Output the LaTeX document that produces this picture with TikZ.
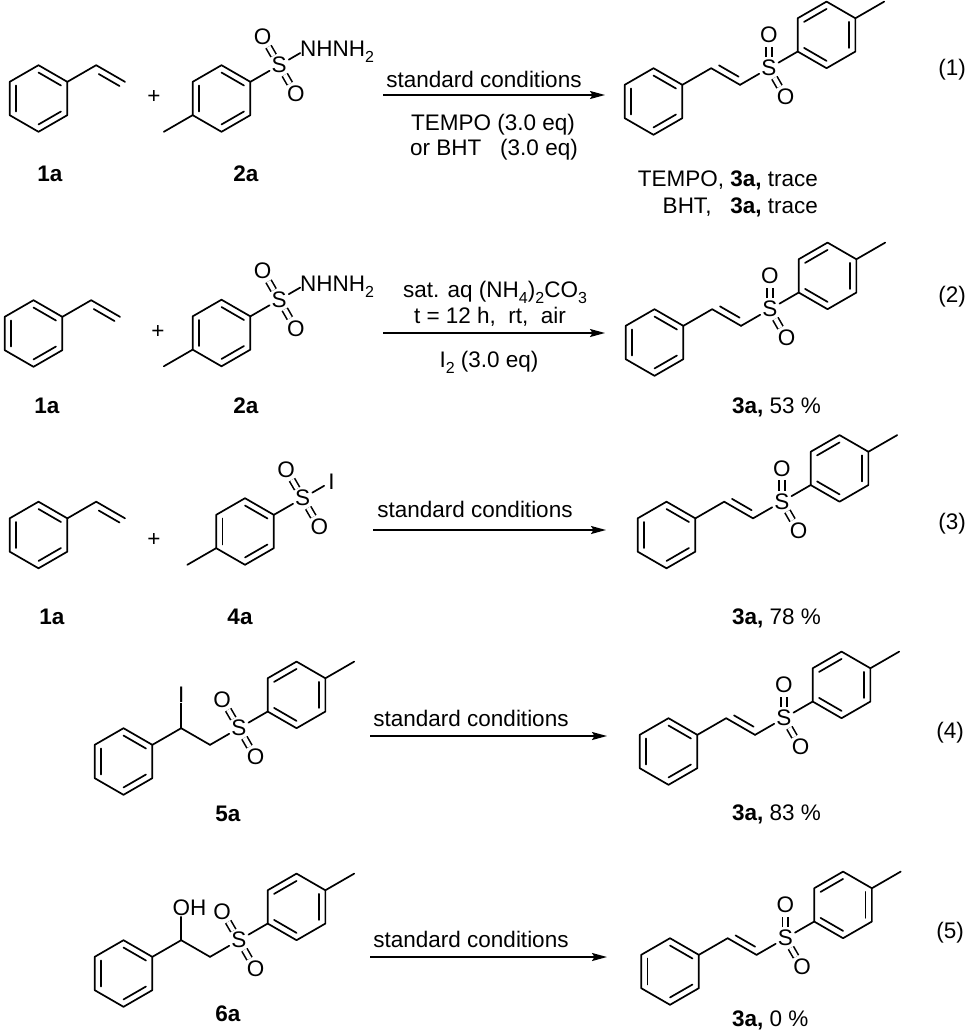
\documentclass[tikz,border=0pt]{standalone}
\usepackage{fontspec}
\setmainfont{Liberation Sans}
\usetikzlibrary{calc,arrows.meta}
\def\BL{33.3}
\def\BX{28.84}
\def\BY{16.65}
\newcommand{\csub}[1]{\raisebox{-0.28em}{\fontsize{16}{16}\selectfont #1}}
\tikzset{
 bond/.style={line width=1.7pt, line cap=round, line join=round},
 dbl/.style={line width=1.6pt, line cap=butt, double, double distance=4.2pt},
 atom/.style={circle, inner sep=0pt, font=\fontsize{22.5}{27}\selectfont},
 txt/.style={inner sep=0pt, font=\fontsize{22.5}{27}\selectfont},
 cpd/.style={inner sep=0pt, font=\fontsize{22.5}{27}\selectfont\bfseries},
 rxn/.style={line width=1.5pt, -{Stealth[length=15pt,width=8pt,inset=2.5pt]}},
}
\newcommand{\ringcoords}[3]{%
 \coordinate (#1c) at ({#2},{#3});
 \coordinate (#1t) at ($(#1c)+(0,-\BL)$);
 \coordinate (#1ur) at ($(#1c)+(\BX,-\BY)$);
 \coordinate (#1lr) at ($(#1c)+(\BX,\BY)$);
 \coordinate (#1b) at ($(#1c)+(0,\BL)$);
 \coordinate (#1ll) at ($(#1c)+(-\BX,\BY)$);
 \coordinate (#1ul) at ($(#1c)+(-\BX,-\BY)$);
 \draw[bond] (#1t)--(#1ur)--(#1lr)--(#1b)--(#1ll)--(#1ul)--cycle;
}
\newcommand{\rinner}[3]{\draw[bond] ($(#1c)!0.78!(#1#2)$) -- ($(#1c)!0.78!(#1#3)$);}
\newcommand{\benzA}[3]{\ringcoords{#1}{#2}{#3}\rinner{#1}{ul}{ll}\rinner{#1}{t}{ur}\rinner{#1}{b}{lr}}
\newcommand{\benzB}[3]{\ringcoords{#1}{#2}{#3}\rinner{#1}{ul}{t}\rinner{#1}{ur}{lr}\rinner{#1}{b}{ll}}
% styrene 1a
\newcommand{\styrene}[3]{%
 \benzA{#1r}{#2}{#3}
 \coordinate (#1v1) at ($(#1rc)+(2*\BX,-\BL)$);
 \coordinate (#1v2) at ($(#1rc)+(3*\BX,-\BY)$);
 \draw[bond] (#1rur) -- (#1v1) -- (#1v2);
 \draw[bond] ($(#1v1)!0.2!(#1v2)+(-3.2,5.5)$) -- ($(#1v1)!0.92!(#1v2)+(-3.2,5.5)$);
}
% tosyl reactant
\newcommand{\tosyl}[3]{%
 \benzA{#1r}{#2}{#3}
 \node[atom] (#1S) at ($(#1rc)+(2*\BX,-\BL)$) {S};
 \node[atom] (#1O1) at ($(#1S)+(-\BY,-\BX)$) {O};
 \node[atom] (#1O2) at ($(#1S)+(\BY,\BX)$) {O};
 \coordinate (#1X) at ($(#1S)+(\BX,-\BY)$);
 \coordinate (#1me) at ($(#1rll)+(-\BX,\BY)$);
 \draw[bond] (#1rur) -- (#1S);
 \draw[dbl] (#1S) -- (#1O1);
 \draw[dbl] (#1S) -- (#1O2);
 \draw[bond] (#1rll) -- (#1me);
}
% product 3a
\newcommand{\prodvs}[3]{%
 \benzA{#1p}{#2}{#3}
 \coordinate (#1c1) at ($(#1pc)+(2*\BX,-\BL)$);
 \coordinate (#1c2) at ($(#1pc)+(3*\BX,-\BY)$);
 \node[atom] (#1S) at ($(#1pc)+(4*\BX,-\BL)$) {S};
 \node[atom] (#1O1) at ($(#1S)+(0,-\BL)$) {O};
 \node[atom] (#1O2) at ($(#1S)+(\BY,\BX)$) {O};
 \benzB{#1q}{#2+6*\BX}{#3-2*\BL}
 \coordinate (#1me) at ($(#1qur)+(\BX,-\BY)$);
 \draw[bond] (#1pur) -- (#1c1) -- (#1c2);
 \draw[bond] ($(#1c1)!0.16!(#1c2)+(3.2,-5.5)$) -- ($(#1c1)!0.84!(#1c2)+(3.2,-5.5)$);
 \draw[bond] (#1c2) -- (#1S);
 \draw[dbl] (#1S) -- (#1O1);
 \draw[dbl] (#1S) -- (#1O2);
 \draw[bond] (#1S) -- (#1qll);
 \draw[bond] (#1qur) -- (#1me);
}
% adducts 5a / 6a
\newcommand{\adduct}[3]{%
 \benzA{#1p}{#2}{#3}
 \coordinate (#1ch) at ($(#1pc)+(2*\BX,-\BL)$);
 \coordinate (#1top) at ($(#1ch)+(0,-\BL)$);
 \coordinate (#1ch2) at ($(#1pc)+(3*\BX,-\BY)$);
 \node[atom] (#1S) at ($(#1pc)+(4*\BX,-\BL)$) {S};
 \node[atom] (#1O1) at ($(#1S)+(-\BY,-\BX)$) {O};
 \node[atom] (#1O2) at ($(#1S)+(\BY,\BX)$) {O};
 \benzB{#1q}{#2+6*\BX}{#3-2*\BL}
 \coordinate (#1me) at ($(#1qur)+(\BX,-\BY)$);
 \draw[bond] (#1pur) -- (#1ch) -- (#1ch2);
 \draw[bond] (#1ch2) -- (#1S);
 \draw[dbl] (#1S) -- (#1O1);
 \draw[dbl] (#1S) -- (#1O2);
 \draw[bond] (#1S) -- (#1qll);
 \draw[bond] (#1qur) -- (#1me);
}
\begin{document}
\begin{tikzpicture}[x=1pt,y=-1pt]
\useasboundingbox (0,0) rectangle (976,1033);
% ---------- row 1 ----------
\styrene{sa}{38.5}{98.5}
\node[txt, anchor=base] (plus1) at (154,103) {+};
\tosyl{ta}{221.5}{98.5}
\node[txt, anchor=base west] (nha) at ($(taX)+(-8.1,8.1)$) {NHNH\csub{2}};
\draw[bond, shorten >=9pt] (taS) -- (taX);
\node[cpd, anchor=base] (l1a) at (50,181) {1a};
\node[cpd, anchor=base] (l2a) at (246,181) {2a};
\coordinate (a1s) at (383,95); \coordinate (a1e) at (605,95);
\draw[rxn] (a1s) -- (a1e);
\node[txt, anchor=base] (c1a) at (484,88) {standard conditions};
\node[txt, anchor=base] (c1b) at (493,130) {TEMPO (3.0 eq)};
\node[txt, anchor=base] (c1c) at (494,155) {or BHT\ \ \ (3.0 eq)};
\prodvs{pa}{653.5}{101.5}
\node[txt, anchor=base east] (y1a) at (818,186) {TEMPO, \textbf{3a,} trace};
\node[txt, anchor=base east] (y1b) at (818,213) {BHT,\ \ \ \textbf{3a,} trace};
\node[txt] (eq1) at (952,70) {(1)};
% ---------- row 2 ----------
\styrene{sb}{33.5}{333.5}
\node[txt, anchor=base] (plus2) at (158,338) {+};
\tosyl{tb}{221.5}{333}
\node[txt, anchor=base west] (nhb) at ($(tbX)+(-8.1,8.1)$) {NHNH\csub{2}};
\draw[bond, shorten >=9pt] (tbS) -- (tbX);
\node[cpd, anchor=base] (l1b) at (47,413) {1a};
\node[cpd, anchor=base] (l2b) at (246,413) {2a};
\coordinate (a2s) at (383,333); \coordinate (a2e) at (605,333);
\draw[rxn] (a2s) -- (a2e);
\node[txt, anchor=base] (c2a) at (495,297) {sat. aq (NH\csub{4})\csub{2}CO\csub{3}};
\node[txt, anchor=base] (c2b) at (490,323) {t = 12 h,\ \ rt,\ \ air};
\node[txt, anchor=base] (c2c) at (489,367) {I\csub{2} (3.0 eq)};
\prodvs{pb}{654.5}{342.5}
\node[txt, anchor=base west] (y2) at (732,413) {\textbf{3a,} 53 \%};
\node[txt] (eq2) at (952,297) {(2)};
% ---------- row 3 ----------
\styrene{sc}{38.5}{535}
\node[txt, anchor=base] (plus3) at (154,546) {+};
\tosyl{tc}{245}{531.5}
\node[atom] (iod4) at (tcX) {I};
\draw[bond] (tcS) -- (iod4);
\node[cpd, anchor=base] (l1c) at (52,624) {1a};
\node[cpd, anchor=base] (l4a) at (240,624) {4a};
\coordinate (a3s) at (373,530); \coordinate (a3e) at (606,530);
\draw[rxn] (a3s) -- (a3e);
\node[txt, anchor=base] (c3a) at (475,517) {standard conditions};
\prodvs{pc}{666.5}{535}
\node[txt, anchor=base west] (y3) at (732,624) {\textbf{3a,} 78 \%};
\node[txt] (eq3) at (952,524) {(3)};
% ---------- row 4 ----------
\adduct{ad}{123.5}{761.5}
\node[atom] (iod5) at (adtop) {I};
\draw[bond] (adch) -- (iod5);
\node[cpd, anchor=base] (l5a) at (228,821) {5a};
\coordinate (a4s) at (370,736); \coordinate (a4e) at (607,736);
\draw[rxn] (a4s) -- (a4e);
\node[txt, anchor=base] (c4a) at (471,726) {standard conditions};
\prodvs{pd}{668.5}{751.5}
\node[txt, anchor=base west] (y4) at (732,820) {\textbf{3a,} 83 \%};
\node[txt] (eq4) at (950,733) {(4)};
% ---------- row 5 ----------
\adduct{ae}{123.5}{973.5}
\node[txt, anchor=base west] (oh6) at ($(aetop)+(-8.75,8.1)$) {OH};
\draw[bond, shorten >=10pt] (aech) -- (aetop);
\node[cpd, anchor=base] (l6a) at (228,1021) {6a};
\coordinate (a5s) at (370,957); \coordinate (a5e) at (607,957);
\draw[rxn] (a5s) -- (a5e);
\node[txt, anchor=base] (c5a) at (471,947) {standard conditions};
\prodvs{pe}{670}{971.5}
\node[txt, anchor=base west] (y5) at (732,1026) {\textbf{3a,} 0 \%};
\node[txt] (eq5) at (950,933) {(5)};
\end{tikzpicture}
\end{document}
